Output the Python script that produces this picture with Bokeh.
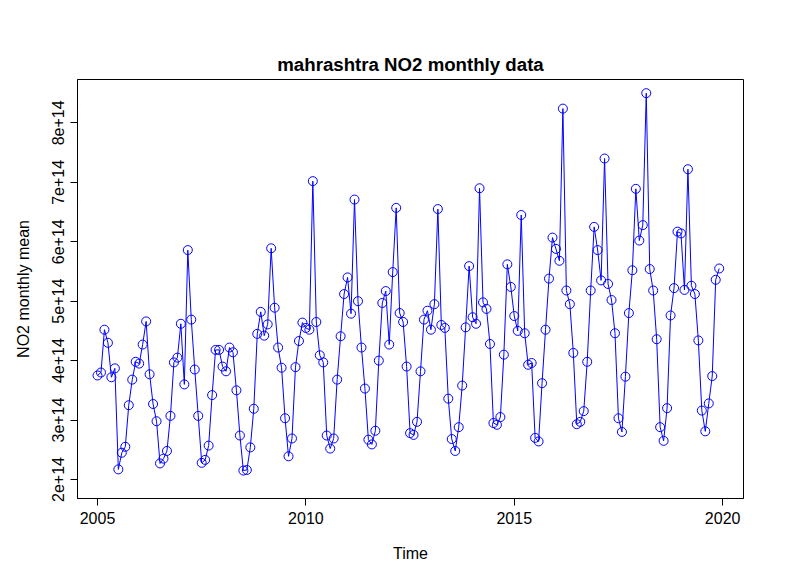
from bokeh.plotting import figure
from bokeh.embed import file_html
from bokeh.resources import INLINE

years = list(range(2005, 2020))
# NO2 monthly mean, units of 1e14
no2 = [
    3.75, 3.80, 4.52, 4.30, 3.72, 3.87, 2.17, 2.45, 2.55, 3.25, 3.68, 3.98,
    3.95, 4.27, 4.66, 3.77, 3.27, 2.98, 2.27, 2.35, 2.48, 3.07, 3.97, 4.05,
    4.62, 3.60, 5.86, 4.69, 3.85, 3.07, 2.28, 2.33, 2.57, 3.42, 4.18, 4.18,
    3.90, 3.82, 4.22, 4.14, 3.50, 2.74, 2.15, 2.16, 2.54, 3.19, 4.45, 4.82,
    4.42, 4.61, 5.89, 4.89, 4.22, 3.88, 3.03, 2.39, 2.69, 3.89, 4.33, 4.64,
    4.55, 4.52, 7.02, 4.65, 4.09, 3.97, 2.74, 2.52, 2.69, 3.68, 4.41, 5.12,
    5.40, 4.79, 6.71, 5.00, 4.22, 3.53, 2.67, 2.59, 2.82, 4.00, 4.97, 5.17,
    4.27, 5.49, 6.57, 4.80, 4.65, 3.90, 2.78, 2.75, 2.97, 3.82, 4.69, 4.84,
    4.52, 4.95, 6.55, 4.60, 4.55, 3.36, 2.68, 2.48, 2.88, 3.58, 4.56, 5.59,
    4.73, 4.62, 6.90, 4.98, 4.87, 4.28, 2.95, 2.92, 3.05, 4.10, 5.62, 5.24,
    4.75, 4.50, 6.45, 4.46, 3.93, 3.96, 2.70, 2.64, 3.62, 4.52, 5.38, 6.07,
    5.88, 5.68, 8.24, 5.18, 4.95, 4.13, 2.93, 2.97, 3.15, 3.98, 5.18, 6.25,
    5.86, 5.35, 7.40, 5.29, 5.02, 4.46, 3.03, 2.80, 3.73, 4.80, 5.52, 6.89,
    6.02, 6.28, 8.50, 5.54, 5.18, 4.36, 2.88, 2.65, 3.20, 4.76, 5.22, 6.17,
    6.14, 5.19, 7.22, 5.26, 5.12, 4.34, 3.16, 2.81, 3.28, 3.74, 5.36, 5.55,
]
t = [y + m / 12 for y in years for m in range(12)]
x_ticks = [2005, 2010, 2015, 2020]
y_ticks = [2, 3, 4, 5, 6, 7, 8]

p = figure(width=776, height=572, output_backend="svg", toolbar_location=None,
           x_range=(2004.52, 2020.5), y_range=(1.68, 8.73),
           min_border_left=77, min_border_right=33, min_border_top=79, min_border_bottom=74,
           title="mahrashtra NO2 monthly data")
p.title.align = "center"
p.title.text_font = "Liberation Sans"
p.title.text_font_size = "14pt"
p.title.text_font_style = "bold"
p.title.text_color = "black"
p.grid.visible = False
p.outline_line_color = "black"
p.background_fill_color = "white"

p.line(t, no2, line_color="blue", line_width=1)
p.scatter(t, no2, size=9, fill_color=None, line_color="blue", line_width=1)

p.xaxis.ticker = x_ticks
p.yaxis.ticker = y_ticks
p.yaxis.major_label_overrides = {v: f"{v}e+14" for v in y_ticks}
p.yaxis.major_label_orientation = "vertical"
p.xaxis.axis_label = "Time"
p.yaxis.axis_label = "NO2 monthly mean"
for ax in (p.xaxis, p.yaxis):
    ax.minor_tick_line_color = None
    ax.major_tick_out = 7
    ax.major_tick_in = 0
    ax.major_label_text_font = "Liberation Sans"
    ax.major_label_text_font_size = "12pt"
    ax.major_label_text_color = "black"
    ax.axis_label_text_font = "Liberation Sans"
    ax.axis_label_text_font_size = "12pt"
    ax.axis_label_text_font_style = "normal"
    ax.axis_label_text_color = "black"
    ax.major_label_standoff = 6
    ax.axis_label_standoff = 18

open("out.html", "w").write(file_html(p, INLINE))
